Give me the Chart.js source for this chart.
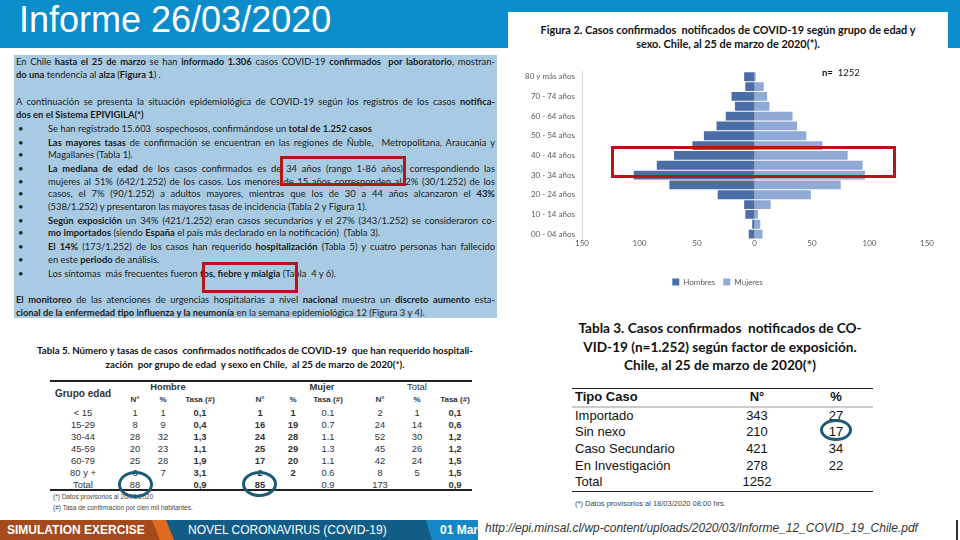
<!DOCTYPE html>
<html>
<head>
<meta charset="utf-8">
<script src="https://cdn.jsdelivr.net/npm/chart.js@4.4.1/dist/chart.umd.min.js"></script>
<style>
  html, body { margin: 0; padding: 0; }
  body { width: 960px; height: 540px; position: relative; overflow: hidden; background: #fff; font-family: 'Liberation Sans', Arial, sans-serif; }
  .abs { position: absolute; }
  #header { left: 0; top: 0; width: 960px; height: 48px; background: #0b8ccb; }
  #header h1 { position: absolute; left: 19px; top: 0; margin: 0; font-size: 36px; line-height: 40px; font-weight: normal; color: #fff; }
  #figPanel { left: 508px; top: 12px; width: 440px; height: 290px; background: #fff; }
  #figTitle { left: 508px; top: 23px; width: 440px; text-align: center; font-family: Lato, sans-serif; font-weight: bold; font-size: 10.9px; line-height: 14px; color: #111; }
  #chartBox { left: 508px; top: 60px; width: 440px; height: 240px; }
  #nLabel { left: 822px; top: 67px; font-family: Lato, sans-serif; font-size: 9.5px; color: #111; }
  #textBlock { left: 14px; top: 55px; width: 479px; height: 263px; padding: 0 2px; background: #a8cbe3; font-family: Lato, sans-serif; font-size: 9.4px; line-height: 12.5px; color: #1b1b1b; }
  .ln { text-align: justify; text-align-last: justify; height: 12.5px; overflow: hidden; }
  .end { text-align-last: left; }
  .gap { margin-top: 15px; }
  .bl { position: relative; padding-left: 32px; }
  .bl::before { content: '•'; position: absolute; left: 2px; top: 0; }
  .bm { margin-top: 1.5px; }
  .redbox { position: absolute; border: 3px solid #b3151b; box-sizing: border-box; }
  .ring { position: absolute; border: 3px solid #1d5a78; border-radius: 50%; box-sizing: border-box; }
  #t5Title { left: 20px; top: 343px; width: 470px; text-align: center; font-family: Lato, sans-serif; font-weight: bold; font-size: 9.7px; line-height: 14px; color: #111; }
  .rule { position: absolute; background: #222; }
  .c5 { position: absolute; transform: translate(-50%, -50%); font-size: 9.4px; color: #333; white-space: nowrap; }
  .foot5 { position: absolute; left: 53px; font-size: 6.5px; color: #444; }
  #t3Title { left: 560px; top: 319px; width: 320px; text-align: center; font-family: Lato, sans-serif; font-weight: bold; font-size: 13.6px; line-height: 18.5px; color: #111; }
  #t3 { position: absolute; left: 572px; top: 388px; width: 301px; border-collapse: collapse; table-layout: fixed; font-size: 13px; color: #111; border-top: 1.5px solid #222; border-bottom: 1.5px solid #222; }
  #t3 td { padding: 0; height: 16.6px; line-height: 16px; }
  #t3 tr.hd td { font-weight: bold; border-bottom: 2px solid #ccc; }
  #t3 td.c { text-align: center; }
  #t3 td.l { padding-left: 3px; }
  #t3foot { left: 575px; top: 499px; font-size: 7.5px; color: #444; }
  #footer { left: 0; top: 520px; width: 960px; height: 20px; }
  .seg { position: absolute; top: 0; height: 20px; color: #fff; font-size: 12px; line-height: 20px; white-space: nowrap; overflow: hidden; }
  #url { left: 478px; width: 477px; background: #fff; color: #333; font-style: italic; font-size: 12px; padding-left: 7px; box-sizing: border-box; line-height: 16px; }
</style>
</head>
<body>
<div id="header" class="abs"><h1>Informe 26/03/2020</h1></div>

<div id="textBlock" class="abs">
  <div style="height:1px"></div>
  <div class="ln">En Chile <b>hasta el 25 de marzo</b> se han <b>informado 1.306</b> casos COVID-19 <b>confirmados</b>&nbsp; <b>por laboratorio</b>, mostran-</div>
  <div class="ln end"><b>do una</b> tendencia al <b>alza</b> (<b>Figura 1</b>) .</div>
  <div class="ln gap">A continuación se presenta la situación epidemiológica de COVID-19 según los registros de los casos <b>notifica-</b></div>
  <div class="ln end"><b>dos en el Sistema EPIVIGILA(*)</b></div>
  <div class="ln end bl bm">Se han registrado 15.603&nbsp; sospechosos, confirmándose un <b>total de 1.252 casos</b></div>
  <div class="ln bl bm"><b>Las mayores tasas</b> de confirmación se encuentran en las regiones de Ñuble,&nbsp; Metropolitana, Araucania y</div>
  <div class="ln end bl">Magallanes (Tabla 1).</div>
  <div class="ln bl bm"><b>La mediana de edad</b> de los casos confirmados es de 34 años (rango 1-86 años), correspondiendo las</div>
  <div class="ln bl">mujeres al 51% (642/1.252) de los casos. Los menores de 15 años corresponden al 2% (30/1.252) de los</div>
  <div class="ln bl">casos, el 7% (90/1.252) a adultos mayores, mientras que los de 30 a 44 años alcanzaron el <b>43%</b></div>
  <div class="ln end bl">(538/1.252) y presentaron las mayores tasas de incidencia (Tabla 2 y Figura 1).</div>
  <div class="ln bl bm"><b>Según exposición</b> un 34% (421/1.252) eran casos secundarios y el 27% (343/1.252) se consideraron co-</div>
  <div class="ln end bl"><b>mo importados</b> (siendo <b>España</b> el país más declarado en la notificación)&nbsp; (Tabla 3).</div>
  <div class="ln bl bm"><b>El 14%</b> (173/1.252) de los casos han requerido <b>hospitalización</b> (Tabla 5) y cuatro personas han fallecido</div>
  <div class="ln end bl">en este <b>periodo</b> de análisis.</div>
  <div class="ln end bl bm">Los síntomas&nbsp; más frecuentes fueron <b>tos, fiebre y mialgia</b> (Tabla&nbsp; 4 y 6).</div>
  <div class="ln" style="margin-top:14px"><b>El monitoreo</b> de las atenciones de urgencias hospitalarias a nivel <b>nacional</b> muestra un <b>discreto aumento</b> esta-</div>
  <div class="ln end"><b>cional de la enfermedad tipo influenza y la neumonía</b> en la semana epidemiológica 12 (Figura 3 y 4).</div>
</div>
<div class="redbox" style="left:280px;top:156px;width:126px;height:30px"></div>
<div class="redbox" style="left:202px;top:262px;width:96px;height:31px"></div>

<div id="figPanel" class="abs"></div>
<div id="figTitle" class="abs">Figura 2. Casos confirmados&nbsp; notificados de COVID-19 según grupo de edad y<br>sexo. Chile, al 25 de marzo de 2020(*).</div>
<div id="chartBox" class="abs"><canvas id="pyramid"></canvas></div>
<div id="nLabel" class="abs"><b>n=</b>&nbsp; 1252</div>
<div class="redbox" style="left:611px;top:146px;width:285px;height:32px"></div>

<div id="t5Title" class="abs">Tabla 5. Número y tasas de casos&nbsp; confirmados notificados de COVID-19&nbsp; que han requerido hospitali-<br>zación&nbsp; por grupo de edad&nbsp; y sexo en Chile,&nbsp; al 25 de marzo de 2020(*).</div>
<div id="t5"></div>
<div class="foot5" style="top:493px">(*) Datos provisorios al 26/03/2020</div>
<div class="foot5" style="top:504px">(#) Tasa de confirmación por cien mil habitantes.</div>
<div class="ring" style="left:118px;top:471px;width:35px;height:27px"></div>
<div class="ring" style="left:242px;top:471px;width:35px;height:26px"></div>

<div id="t3Title" class="abs">Tabla 3. Casos confirmados&nbsp; notificados de CO-<br>VID-19 (n=1.252) según factor de exposición.<br>Chile, al 25 de marzo de 2020(*)</div>
<table id="t3">
  <colgroup><col style="width:128px"><col style="width:114px"><col style="width:44px"><col style="width:15px"></colgroup>
  <tr class="hd"><td class="l">Tipo Caso</td><td class="c">N°</td><td class="c">%</td><td></td></tr>
  <tr><td class="l">Importado</td><td class="c">343</td><td class="c">27</td><td></td></tr>
  <tr><td class="l">Sin nexo</td><td class="c">210</td><td class="c">17</td><td></td></tr>
  <tr><td class="l">Caso Secundario</td><td class="c">421</td><td class="c">34</td><td></td></tr>
  <tr><td class="l">En Investigación</td><td class="c">278</td><td class="c">22</td><td></td></tr>
  <tr><td class="l">Total</td><td class="c">1252</td><td class="c"></td><td></td></tr>
</table>
<div id="t3foot" class="abs">(*) Datos provisorios al 18/03/2020 08:00 hrs.</div>
<div class="ring" style="left:820px;top:419px;width:32px;height:22px"></div>

<div id="footer" class="abs">
  <div class="seg" style="left:0;width:182px;background:#e06a1f"></div>
  <div class="seg" style="left:0;width:160px;background:#a44a1b;clip-path:polygon(0 0,152px 0,160px 100%,0 100%);font-weight:bold;padding-left:7px;box-sizing:border-box">SIMULATION EXERCISE</div>
  <div class="seg" style="left:166px;width:268px;background:#125d87;clip-path:polygon(0 0,100% 0,100% 100%,8px 100%);padding-left:22px;box-sizing:border-box">NOVEL CORONAVIRUS (COVID-19)</div>
  <div class="seg" style="left:426px;width:60px;background:#1687c6;clip-path:polygon(0 0,100% 0,100% 100%,6px 100%);font-weight:bold;padding-left:14px;box-sizing:border-box">01 Mar</div>
  <div class="seg" id="url">http://epi.minsal.cl/wp-content/uploads/2020/03/Informe_12_COVID_19_Chile.pdf</div>
  <div class="seg" style="left:956px;width:2px;background:#333"></div>
</div>

<script>
'use strict';

// Pyramid data (read from Figura 2)
let ageGroups = ['80 y más años', '75 - 79 años', '70 - 74 años', '65 - 69 años', '60 - 64 años',
  '55 - 59 años', '50 - 54 años', '45 - 49 años', '40 - 44 años', '35 - 39 años', '30 - 34 años',
  '25 - 29 años', '20 - 24 años', '15 - 19 años', '10 - 14 años', '05 - 09 años', '00 - 04 años'];
let hombres = [9, 8, 20, 17, 25, 33, 44, 54, 70, 85, 105, 74, 32, 9, 8, 2, 5];
let mujeres = [1, 8, 11, 13, 33, 37, 45, 59, 81, 94, 96, 75, 49, 14, 3, 5, 7];
let seriesNames = ['Hombres', 'Mujeres'];
let xLimit = 150;

// Tabla 5 rows
let t5Groups = ['< 15', '15-29', '30-44', '45-59', '60-79', '80 y +', 'Total'];
let t5Hombre = [['1', '1', '0,1'], ['8', '9', '0,4'], ['28', '32', '1,3'], ['20', '23', '1,1'], ['25', '28', '1,9'], ['6', '7', '3,1'], ['88', '', '0,9']];
let t5Mujer = [['1', '1', '0.1'], ['16', '19', '0.7'], ['24', '28', '1.1'], ['25', '29', '1.3'], ['17', '20', '1.1'], ['2', '2', '0.6'], ['85', '', '0.9']];
let t5Total = [['2', '1', '0,1'], ['24', '14', '0,6'], ['52', '30', '1,2'], ['45', '26', '1,2'], ['42', '24', '1,5'], ['8', '5', '1,5'], ['173', '', '0,9']];

// Tabla 5 layout
let t5Box = document.getElementById('t5');
let colX = [83, 135, 163, 200, 260, 293, 328, 380, 417, 455];
let boldCols = [3, 4, 5, 9];

function cell(text, x, y, bold, size) {
  let s = document.createElement('span');
  s.className = 'c5';
  s.textContent = text;
  s.style.left = x + 'px';
  s.style.top = y + 'px';
  if (bold) s.style.fontWeight = 'bold';
  if (size) s.style.fontSize = size + 'px';
  t5Box.appendChild(s);
}

function rule(x, y, w, h) {
  let r = document.createElement('div');
  r.className = 'rule';
  r.style.left = x + 'px';
  r.style.top = y + 'px';
  r.style.width = w + 'px';
  r.style.height = h + 'px';
  t5Box.appendChild(r);
}

rule(50, 380, 422, 1.5);
rule(50, 489, 422, 1.5);
cell('Grupo edad', 83, 393, true, 10);
cell('Hombre', 168, 386, true);
cell('Mujer', 322, 386, true);
cell('Total', 417, 386, false);
let subHeads = ['N°', '%', 'Tasa (#)'];
for (let g = 0; g < 3; g++) {
  for (let k = 0; k < 3; k++) {
    cell(subHeads[k], colX[1 + g * 3 + k], 399, true, 8);
  }
}
for (let i = 0; i < t5Groups.length; i++) {
  let y = 412 + i * 12;
  let row = [t5Groups[i]].concat(t5Hombre[i], t5Mujer[i], t5Total[i]);
  for (let j = 0; j < row.length; j++) {
    cell(row[j], colX[j], y, boldCols.includes(j));
  }
}

// Pyramid chart
Chart.defaults.font.family = 'Lato, sans-serif';
const ctx = document.getElementById('pyramid').getContext('2d');

let chartObject = {
  type: 'bar',
  data: {
    labels: ageGroups,
    datasets: [{
      label: seriesNames[0],
      data: hombres.map(v => -v),
      backgroundColor: '#4a6fa7',
      barPercentage: 0.9,
      categoryPercentage: 1
    },
    {
      label: seriesNames[1],
      data: mujeres,
      backgroundColor: '#8eaad5',
      barPercentage: 0.9,
      categoryPercentage: 1
    }]
  },
  options: {
    indexAxis: 'y',
    responsive: true,
    maintainAspectRatio: false,
    animation: false,
    layout: { padding: { top: 8, right: 21, bottom: 4, left: 0 } },
    scales: {
      x: {
        stacked: true,
        min: -xLimit,
        max: xLimit,
        ticks: {
          stepSize: 50,
          padding: 0,
          color: '#595959',
          font: { size: 8 },
          callback: v => Math.abs(v)
        },
        grid: { display: false, drawTicks: false },
        border: { display: false },
        afterFit: s => { s.height = 31; }
      },
      y: {
        stacked: true,
        ticks: {
          autoSkip: false,
          padding: 7,
          color: '#595959',
          font: { size: 8 },
          callback: (v, i) => (i % 2 === 0 ? ageGroups[i] : '')
        },
        grid: { display: false, drawTicks: false },
        border: { color: '#d9d9d9' },
        afterFit: s => { s.width = 74; }
      }
    },
    plugins: {
      legend: {
        position: 'bottom',
        labels: { boxWidth: 7, boxHeight: 7, padding: 8, color: '#595959', font: { size: 8 } }
      },
      tooltip: { enabled: false }
    }
  }
};

// eslint-disable-next-line no-unused-vars
const pyramidChart = new Chart(ctx, chartObject);
</script>
</body>
</html>
